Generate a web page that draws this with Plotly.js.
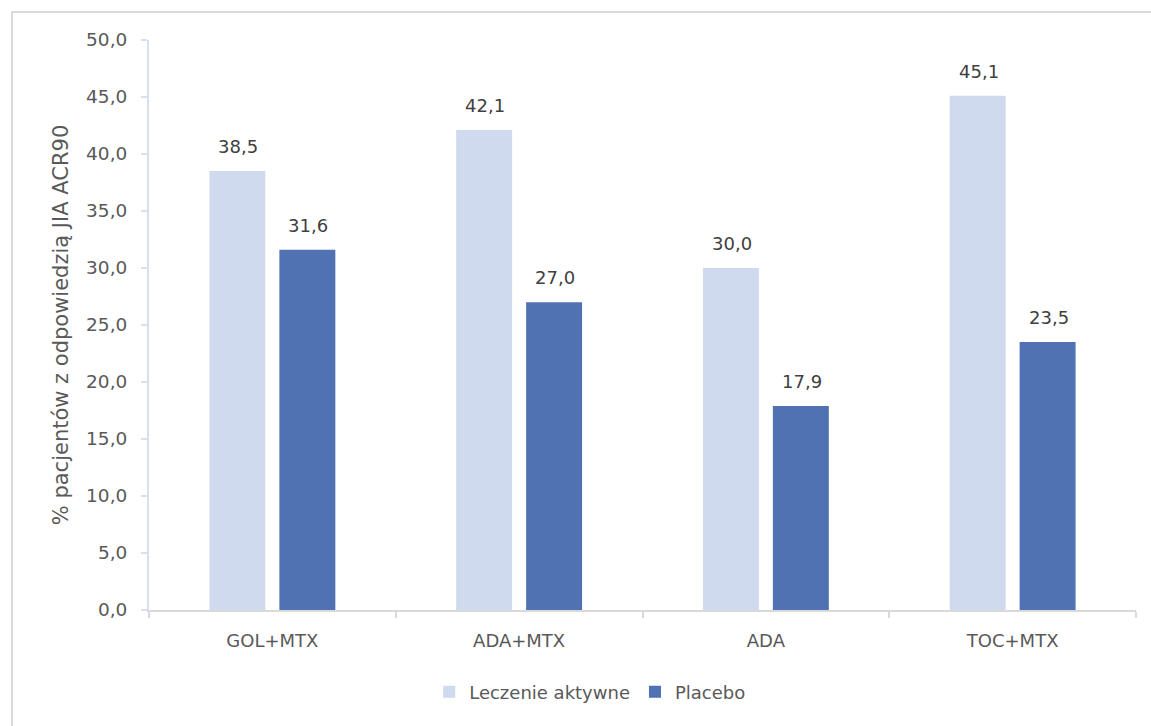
<!DOCTYPE html>
<html>
<head>
<meta charset="utf-8">
<script src="https://cdn.plot.ly/plotly-3.0.1.min.js"></script>
<style>
  html, body { margin: 0; padding: 0; background: #ffffff; }
  #chart { width: 1151px; height: 726px; }
</style>
</head>
<body>
<div id="chart"></div>
<script>
// Odsetek pacjentów z odpowiedzią JIA ACR90
const categories = ['GOL+MTX', 'ADA+MTX', 'ADA', 'TOC+MTX'];
const activeValues = [38.5, 42.1, 30.0, 45.1];
const placeboValues = [31.6, 27.0, 17.9, 23.5];
const seriesNames = ['Leczenie aktywne', 'Placebo'];
const yTitle = '% pacjentów z odpowiedzią JIA ACR90';

const fmt = v => v.toFixed(1).replace('.', ',');

const lightColor = '#cfdaee';
const darkColor = '#5072b3';
const textColor = '#595959';
const fontFamily = '"DejaVu Sans", Verdana, sans-serif';

const traces = [
  {
    type: 'bar', name: seriesNames[0], x: categories, y: activeValues,
    marker: { color: lightColor }, hoverinfo: 'x+y'
  },
  {
    type: 'bar', name: seriesNames[1], x: categories, y: placeboValues,
    marker: { color: darkColor }, hoverinfo: 'x+y'
  }
];

// value labels above each bar
const annotations = [];
[activeValues, placeboValues].forEach((vals, s) => {
  vals.forEach((v, i) => {
    annotations.push({
      x: categories[i], y: v, xref: 'x', yref: 'y',
      text: fmt(v), showarrow: false,
      xshift: s === 0 ? -34 : 36, yshift: 12, yanchor: 'bottom',
      font: { family: fontFamily, size: 18, color: '#404040' }
    });
  });
});

const layout = {
  width: 1151, height: 726,
  margin: { l: 149, r: 15, t: 40, b: 116 },
  paper_bgcolor: '#ffffff', plot_bgcolor: '#ffffff',
  barmode: 'group', bargap: 0.433, bargroupgap: 0.2,
  separators: ',.',
  font: { family: fontFamily, size: 18, color: textColor },
  xaxis: {
    type: 'category', tickson: 'boundaries',
    ticks: 'outside', ticklen: 6, tickcolor: '#d9d9d9', tickwidth: 2,
    showline: true, linecolor: '#d9d9d9', linewidth: 2,
    showgrid: false, zeroline: false,
    tickfont: { family: fontFamily, size: 18, color: textColor },
    ticklabelstandoff: 13
  },
  yaxis: {
    range: [0, 50], dtick: 5, tick0: 0, tickformat: '.1f',
    ticks: 'outside', ticklen: 6, tickcolor: '#d6e0f2', tickwidth: 2,
    showline: true, linecolor: '#d6e0f2', linewidth: 2,
    showgrid: false, zeroline: false,
    tickfont: { family: fontFamily, size: 18.5, color: textColor },
    ticklabelstandoff: 10,
    title: { text: yTitle, standoff: 12, font: { family: fontFamily, size: 21, color: textColor } }
  },
  legend: {
    orientation: 'h', x: 0.447, xanchor: 'center', y: -0.144, yanchor: 'middle',
    font: { family: fontFamily, size: 18, color: textColor },
    itemwidth: 30, traceorder: 'normal'
  },
  annotations: annotations,
  shapes: [{
    type: 'rect', xref: 'paper', yref: 'paper',
    x0: -0.1388, x1: 1.05, y0: -0.25, y1: 1.0491,
    line: { color: '#d9d9d9', width: 2 }, fillcolor: 'rgba(0,0,0,0)', layer: 'below'
  }],
  showlegend: true
};

Plotly.newPlot('chart', traces, layout, { displayModeBar: false, staticPlot: true });
</script>
</body>
</html>
